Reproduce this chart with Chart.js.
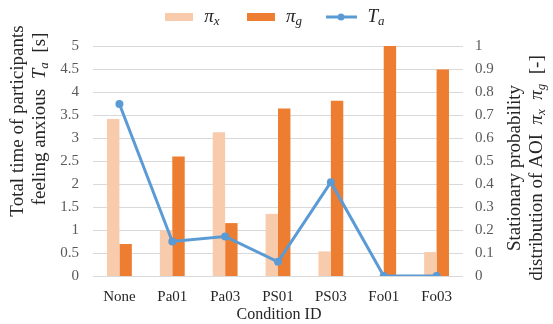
<!DOCTYPE html>
<html lang="en">
<head>
  <meta charset="UTF-8">
  <title>Stationary probability and anxious time</title>
  <script src="https://cdn.jsdelivr.net/npm/chart.js"></script>
  <style>
    html, body { margin: 0; padding: 0; background: #fff; }
    #wrap { width: 553px; height: 324px; }
  </style>
</head>
<body>
  <div id="wrap"><canvas id="chart"></canvas></div>
  <script>
    // data
    const categories = ['None', 'Pa01', 'Pa03', 'PS01', 'PS03', 'Fo01', 'Fo03'];
    const piX = [0.683, 0.198, 0.625, 0.27, 0.107, 0, 0.104];
    const piG = [0.139, 0.52, 0.23, 0.728, 0.762, 1.0, 0.898];
    const Ta = [3.74, 0.75, 0.86, 0.31, 2.04, 0, 0];

    const SERIF = '"Liberation Serif", "Times New Roman", serif';
    const LIGHT = '#F8CBAD', DARK = '#ED7D31', BLUE = '#5B9BD5';

    // draws a list of text pieces one after the other (italic, subscript...)
    function richText(ctx, segs, x, y) {
      let total = 0;
      segs.forEach(s => {
        ctx.font = s.font;
        total += ctx.measureText(s.t).width;
      });
      let cx = x - total / 2;
      ctx.textBaseline = 'middle';
      ctx.textAlign = 'left';
      segs.forEach(s => {
        ctx.font = s.font;
        ctx.fillText(s.t, cx, y + (s.dy || 0));
        cx += ctx.measureText(s.t).width;
      });
    }

    const reg = (px) => px + 'px ' + SERIF;
    const ital = (px) => 'italic ' + px + 'px ' + SERIF;

    const extras = {
      id: 'extras',
      afterDraw(chart) {
        const ctx = chart.ctx;
        ctx.save();

        // legend
        ctx.fillStyle = LIGHT;
        ctx.fillRect(165, 13, 28, 8);
        ctx.fillStyle = DARK;
        ctx.fillRect(247, 13, 28, 8);
        ctx.strokeStyle = BLUE;
        ctx.lineWidth = 3;
        ctx.beginPath();
        ctx.moveTo(326, 17);
        ctx.lineTo(357, 17);
        ctx.stroke();
        ctx.fillStyle = BLUE;
        ctx.beginPath();
        ctx.arc(341, 17, 3.5, 0, Math.PI * 2);
        ctx.fill();

        ctx.fillStyle = '#262626';
        richText(ctx, [{ t: 'π', font: ital(19) }, { t: 'x', font: ital(13), dy: 5 }], 212, 17);
        richText(ctx, [{ t: 'π', font: ital(19) }, { t: 'g', font: ital(13), dy: 5 }], 294, 17);
        richText(ctx, [{ t: 'T', font: ital(19) }, { t: 'a', font: ital(13), dy: 5 }], 376, 17);

        // x title
        richText(ctx, [{ t: 'Condition ID', font: reg(16) }], 279, 315);

        // left title
        ctx.save();
        ctx.translate(18, 121);
        ctx.rotate(-Math.PI / 2);
        richText(ctx, [{ t: 'Total time of participants', font: reg(19) }], 0, 0);
        ctx.restore();
        ctx.save();
        ctx.translate(40, 119);
        ctx.rotate(-Math.PI / 2);
        richText(ctx, [
          { t: 'feeling anxious  ', font: reg(19) },
          { t: 'T', font: ital(19) },
          { t: 'a', font: ital(13), dy: 5 },
          { t: '  [s]', font: reg(19) }
        ], 0, 0);
        ctx.restore();

        // right title
        ctx.save();
        ctx.translate(515, 168);
        ctx.rotate(-Math.PI / 2);
        richText(ctx, [{ t: 'Stationary probability', font: reg(19) }], 0, 0);
        ctx.restore();
        ctx.save();
        ctx.translate(537, 168);
        ctx.rotate(-Math.PI / 2);
        richText(ctx, [
          { t: 'distribution of AOI  ', font: reg(19) },
          { t: 'π', font: ital(19) },
          { t: 'x', font: ital(13), dy: 5 },
          { t: '  ', font: reg(19) },
          { t: 'π', font: ital(19) },
          { t: 'g', font: ital(13), dy: 5 },
          { t: '  [-]', font: reg(19) }
        ], 0, 0);
        ctx.restore();

        ctx.restore();
      }
    };

    // plain number labels: 5, 4.5, 0.3 ... (no trailing .0)
    const plain = (v) => String(Math.round(v * 10) / 10);

    new Chart(document.getElementById('chart'), {
      type: 'bar',
      data: {
        labels: categories,
        datasets: [
          {
            type: 'line',
            label: 'Ta',
            data: Ta,
            yAxisID: 'y',
            borderColor: BLUE,
            backgroundColor: BLUE,
            borderWidth: 3,
            pointRadius: 4,
            pointBackgroundColor: BLUE,
            pointBorderWidth: 0,
            tension: 0,
            order: 0
          },
          {
            label: 'πx',
            data: piX,
            yAxisID: 'y1',
            backgroundColor: LIGHT,
            categoryPercentage: 0.47,
            barPercentage: 1,
            order: 1
          },
          {
            label: 'πg',
            data: piG,
            yAxisID: 'y1',
            backgroundColor: DARK,
            categoryPercentage: 0.47,
            barPercentage: 1,
            order: 1
          }
        ]
      },
      options: {
        responsive: true,
        maintainAspectRatio: false,
        animation: false,
        layout: { padding: { top: 46, left: 0, right: 0, bottom: 0 } },
        plugins: {
          legend: { display: false },
          tooltip: { enabled: false }
        },
        scales: {
          x: {
            grid: { display: false, drawTicks: false },
            border: { display: false },
            ticks: {
              padding: 12,
              color: '#262626',
              font: { family: SERIF, size: 15 }
            },
            afterFit(scale) { scale.height = 48; }
          },
          y: {
            position: 'left',
            min: 0,
            max: 5,
            ticks: {
              stepSize: 0.5,
              padding: 14,
              color: '#595959',
              font: { family: SERIF, size: 15 },
              callback: plain
            },
            grid: { color: '#D9D9D9', lineWidth: 1, drawTicks: false },
            border: { display: false },
            afterFit(scale) { scale.width = 93; }
          },
          y1: {
            position: 'right',
            min: 0,
            max: 1,
            ticks: {
              stepSize: 0.1,
              padding: 12,
              color: '#595959',
              font: { family: SERIF, size: 15 },
              callback: plain
            },
            grid: { display: false, drawTicks: false },
            border: { display: false },
            afterFit(scale) { scale.width = 90; }
          }
        }
      },
      plugins: [extras]
    });
  </script>
</body>
</html>
